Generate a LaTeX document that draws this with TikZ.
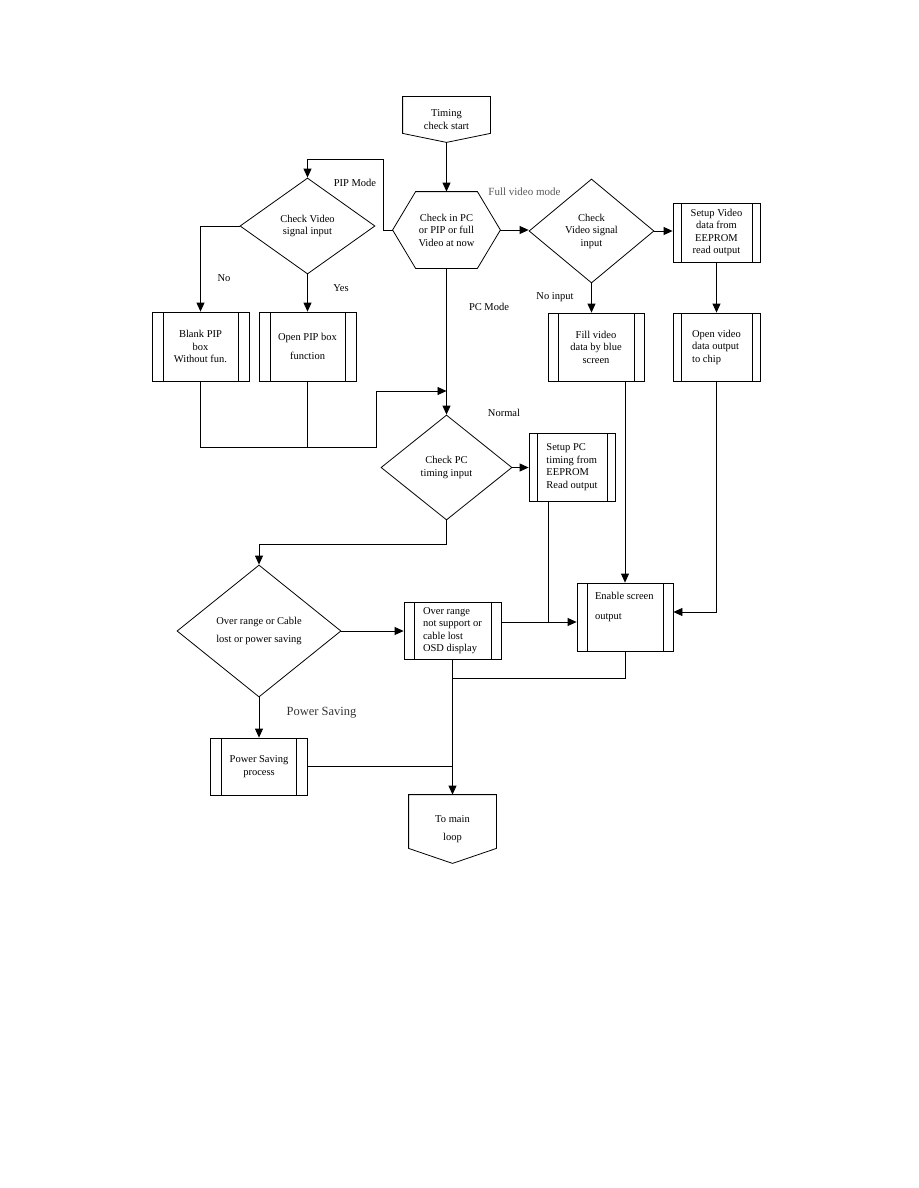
\documentclass[tikz,border=0pt]{standalone}
\usepackage{fontspec}
\setmainfont{Liberation Serif}
\usetikzlibrary{shapes.geometric,arrows.meta}
\begin{document}
\begin{tikzpicture}[x=1pt,y=-1pt,line width=0.8pt,
  every node/.style={font=\fontsize{10.5}{12.5}\selectfont,inner sep=0pt},
  arr/.style={-{Triangle[length=9pt,width=8pt]}},
  procbox/.style={draw,align=center,
    path picture={
      \draw ([xshift=#1]path picture bounding box.north west) -- ([xshift=#1]path picture bounding box.south west);
      \draw ([xshift=-#1]path picture bounding box.north east) -- ([xshift=-#1]path picture bounding box.south east);}},
  procbox/.default=10pt,
  dia/.style={draw,diamond,align=center},
  term/.style={align=center},
  lbl/.style={font=\fontsize{10.5}{12.5}\selectfont},
  glbl/.style={font=\fontsize{11}{13}\selectfont,text=black!65},
  plbl/.style={font=\fontsize{12.5}{14}\selectfont,text=black!80}]
\useasboundingbox (0,0) rectangle (918,1188);

% terminals
\node[term,minimum width=87pt,minimum height=45pt] (start) at (446.5,119.5) {Timing\\check start};
\draw (start.north west) -- (start.north east) -- ([yshift=9pt]start.south east) -- (start.south) -- ([yshift=9pt]start.south west) -- cycle;

\node[term,minimum width=107pt,minimum height=76pt] (hex) at (446.5,230) {Check in PC\\or PIP or full\\Video at now};
\draw (hex.west) -- ([xshift=23pt]hex.north west) -- ([xshift=-23pt]hex.north east) -- (hex.east) -- ([xshift=-23pt]hex.south east) -- ([xshift=23pt]hex.south west) -- cycle;

\node[term,minimum width=87pt,minimum height=68pt] (ml) at (452.5,829) {To main\\[6pt]loop};
\draw (ml.north west) -- (ml.north east) -- ([yshift=15pt]ml.south east) -- (ml.south) -- ([yshift=15pt]ml.south west) -- cycle;

% decisions
\node[dia,minimum width=135pt,minimum height=96pt] (dL) at (307.5,226) {Check Video\\signal input};
\node[dia,minimum width=125pt,minimum height=104pt] (dR) at (591.5,231) {Check\\Video signal\\input};
\node[dia,minimum width=131pt,minimum height=105pt] (dPC) at (446.5,467.5) {Check PC\\timing input};
\node[dia,minimum width=164pt,minimum height=132pt] (dOR) at (259,631) {Over range or Cable\\[6pt]lost or power saving};

% processes
\node[procbox=11pt,minimum width=97pt,minimum height=69pt] (blank) at (200.5,346.5) {Blank PIP\\box\\Without fun.};
\node[procbox=11pt,minimum width=97pt,minimum height=69pt] (openpip) at (307.5,346.5) {Open PIP box\\[6pt]function};
\node[procbox=8pt,minimum width=87pt,minimum height=59pt] (setvid) at (716.5,232.5) {Setup Video\\data from\\EEPROM\\read output};
\node[procbox=10pt,minimum width=96pt,minimum height=68pt] (fill) at (596,347) {Fill video\\data by blue\\screen};
\node[procbox=8pt,minimum width=87pt,minimum height=68pt,align=left] (openvid) at (716.5,347) {Open video\\data output\\to chip};
\node[procbox=8pt,minimum width=86pt,minimum height=68pt,align=left] (setpc) at (572,467) {Setup PC\\timing from\\EEPROM\\Read output};
\node[procbox=10pt,minimum width=96pt,minimum height=68pt] (enable) at (625,617) {};
\node[anchor=west,align=left] (enabletxt) at ([xshift=18pt,yshift=10pt]enable.west) {Enable screen\\[7pt]output};
\node[procbox=10pt,minimum width=97pt,minimum height=57pt,align=left] (orbox) at (452.5,630.5) {Over range\\not support or\\cable lost\\OSD display};
\node[procbox=11pt,minimum width=97pt,minimum height=57pt] (pwr) at (259,766.5) {Power Saving\\process};

% junction coordinates
\coordinate (j6) at (383,159);
\coordinate (j4) at (376,447);
\coordinate (j5) at (376,391);
\coordinate (j3) at (446.5,544);
\coordinate (j1) at (548,622);
\coordinate (j2) at (452.5,678);

% connectors
\draw[arr] (start.south) -- (hex.north);
\draw[arr] (hex.west) -| (j6) -| (dL.north);
\draw[arr] (dL.west) -| (blank.north);
\draw[arr] (dL.south) -- (openpip.north);
\draw[arr] (blank.south) |- (j4) -- (j5) -- (j5 -| hex.south);
\draw (openpip.south) -- (openpip.south |- j4);
\draw[arr] (hex.south) -- (dPC.north);
\draw[arr] (hex.east) -- (hex.east -| dR.west);
\draw[arr] (dR.east) -- (dR.east -| setvid.west);
\draw[arr] (dR.south) -- (dR.south |- fill.north);
\draw[arr] (setvid.south) -- (openvid.north);
\draw[arr] (dPC.east) -- (dPC.east -| setpc.west);
\draw[arr] (dPC.south) -- (j3) -| (dOR.north);
\draw[arr] (dOR.east) -- (dOR.east -| orbox.west);
\draw[arr] (dOR.south) -- (pwr.north);
\draw[arr] (orbox.east |- j1) -- (enable.west |- j1);
\draw (setpc.south -| j1) -- (j1);
\draw[arr] (enable.north |- fill.south) -- (enable.north);
\draw[arr] (openvid.south) |- ([yshift=5pt]enable.east);
\draw (enable.south) |- (j2);
\draw[arr] (orbox.south) -- (ml.north);
\draw (pwr.east) -- (pwr.east -| ml.north);

% labels
\node[lbl] (lpip) at (355,183) {PIP Mode};
\node[lbl] (lno) at (224,278) {No};
\node[lbl] (lyes) at (341,288) {Yes};
\node[lbl] (lpc) at (489,307) {PC Mode};
\node[lbl] (lnormal) at (504,413) {Normal};
\node[lbl] (lnoin) at (555,297) {No input};
\node[glbl] (lfull) at (524.5,192) {Full video mode};
\node[plbl] (lpwr) at (321.5,713) {Power Saving};
\end{tikzpicture}
\end{document}
